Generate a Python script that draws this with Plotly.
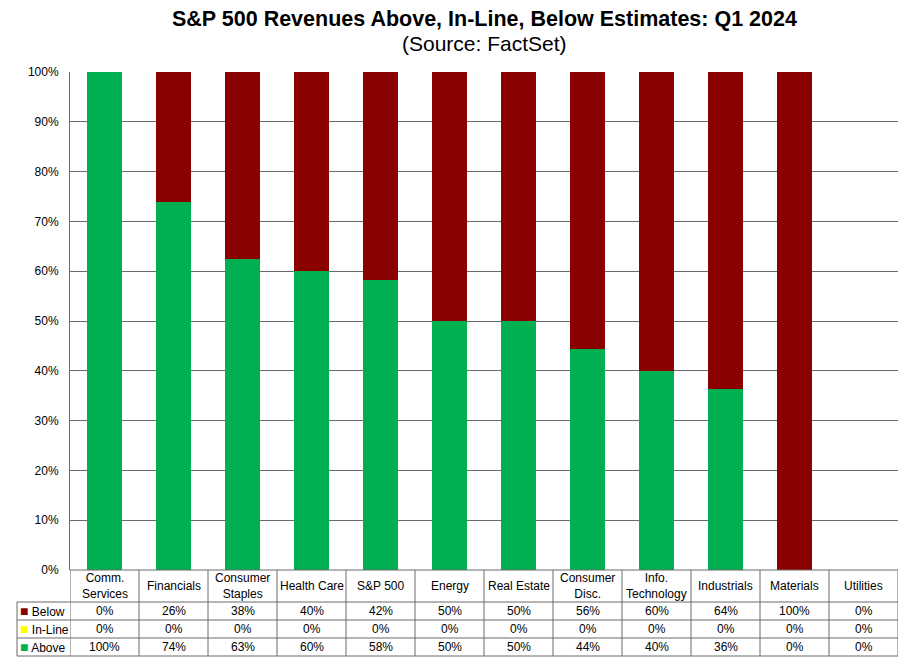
import math
import plotly.graph_objects as go

# ---- data ----
categories = ["Comm.<br>Services", "Financials", "Consumer<br>Staples", "Health Care",
              "S&P 500", "Energy", "Real Estate", "Consumer<br>Disc.",
              "Info.<br>Technology", "Industrials", "Materials", "Utilities"]
above = [100, 73.9, 62.5, 60, 58.3, 50, 50, 44.4, 40, 36.4, 0, 0]
inline = [0, 0, 0, 0, 0, 0, 0, 0, 0, 0, 0, 0]
below = [0, 26.1, 37.5, 40, 41.7, 50, 50, 55.6, 60, 63.6, 100, 0]
series_names = ["Below", "In-Line", "Above"]
series_colors = {"Above": "#00B050", "In-Line": "#FFFF00", "Below": "#8B0000"}
title = "S&P 500 Revenues Above, In-Line, Below Estimates: Q1 2024"
subtitle = "(Source: FactSet)"
y_ticks = list(range(0, 101, 10))

# page offset (body margin) of 8px is compensated
OFF = 8
W, H = 908 - OFF, 660 - OFF
L, T = 70 - OFF, 72 - OFF
R = W - (898 - OFF)
B = H - (570 - OFF)
PH = H - T - B
PW = W - L - R
FONT = "Liberation Sans, Arial, sans-serif"
GRID = "#6a6a6a"


def py(p):
    # reference pixel y -> paper
    return (570 - p) / PH


def px(p):
    # reference pixel x -> paper
    return (p - 70) / PW


def fmt(v):
    return f"{int(math.floor(v + 0.5))}%"


n = len(categories)
xs = list(range(n))
fig = go.Figure()
for name, vals in [("Above", above), ("In-Line", inline), ("Below", below)]:
    fig.add_trace(go.Bar(x=xs, y=vals, name=name, marker_color=series_colors[name],
                         marker_line_width=0, showlegend=False))

fig.update_layout(
    width=W, height=H, barmode="stack", bargap=0.493,
    margin=dict(l=L, r=R, t=T, b=B),
    paper_bgcolor="white", plot_bgcolor="white",
    font=dict(family=FONT, size=12, color="black"),
    xaxis=dict(range=[-0.5, n - 0.5], showticklabels=False, showgrid=False,
               zeroline=False, showline=False, ticks=""),
    yaxis=dict(range=[0, 100], tickvals=y_ticks, ticktext=[f"{v}%" for v in y_ticks],
               showgrid=True, gridcolor=GRID, gridwidth=1, zeroline=False,
               showline=True, linecolor=GRID, linewidth=1, ticks="",
               ticklabelstandoff=8, tickfont=dict(size=12, color="black")),
)

ann = []
ann.append(dict(text=f"<b>{title}</b>", x=0.5, xref="paper", y=py(19), yref="paper",
                showarrow=False, xanchor="center", yanchor="middle", borderpad=0,
                font=dict(size=21.5, family=FONT)))
ann.append(dict(text=subtitle, x=0.5, xref="paper", y=py(44), yref="paper",
                showarrow=False, xanchor="center", yanchor="middle",
                font=dict(size=21, family=FONT)))

# table header (category names)
for i, c in enumerate(categories):
    ann.append(dict(text=c, x=i, xref="x", y=py(586), yref="paper", showarrow=False,
                    xanchor="center", yanchor="middle", font=dict(size=12)))

rows = {"Below": below, "In-Line": inline, "Above": above}
row_centers = {"Below": 611, "In-Line": 629, "Above": 647}
for name in series_names:
    yc = py(row_centers[name])
    ann.append(dict(text=f"<span style='color:{series_colors[name]};font-size:14px'>■</span> {name}",
                    x=px(18), xref="paper", y=yc, yref="paper", showarrow=False,
                    xanchor="left", yanchor="middle", font=dict(size=12)))
    for i, v in enumerate(rows[name]):
        ann.append(dict(text=fmt(v), x=i, xref="x", y=yc, yref="paper", showarrow=False,
                        xanchor="center", yanchor="middle", font=dict(size=12)))

shapes = []
line = dict(color=GRID, width=1)
# vertical column borders
for k in range(n + 1):
    shapes.append(dict(type="line", xref="x", yref="paper", x0=k - 0.5, x1=k - 0.5,
                       y0=0, y1=py(656), line=line))
# row label left border
shapes.append(dict(type="line", xref="paper", yref="paper", x0=px(17), x1=px(17),
                   y0=py(602), y1=py(656), line=line))
# horizontal borders
for yy in [602, 620, 638, 656]:
    shapes.append(dict(type="line", xref="paper", yref="paper", x0=px(17), x1=1,
                       y0=py(yy), y1=py(yy), line=line))
shapes.append(dict(type="line", xref="paper", yref="paper", x0=0, x1=1,
                   y0=0, y1=0, line=line))

fig.update_layout(annotations=ann, shapes=shapes)
fig.write_html("out.html")
